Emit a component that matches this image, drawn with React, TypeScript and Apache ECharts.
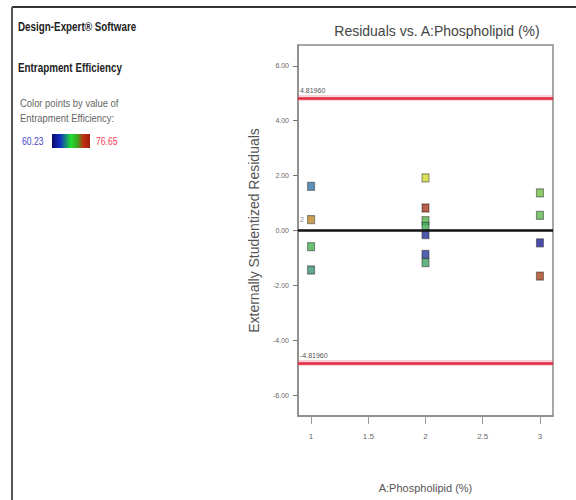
import React, { useEffect, useRef } from "react";
import * as echarts from "echarts";

// Design runs: phospholipid level, externally studentized residual, entrapment efficiency
const phospholipid = [1, 1, 1, 1, 2, 2, 2, 2, 2, 2, 2, 3, 3, 3, 3];
const residuals = [1.61, 0.4, -0.59, -1.44, 1.92, 0.82, 0.36, 0.15, -0.15, -0.87, -1.17, 1.37, 0.55, -0.45, -1.66];
const efficiency = [64.6, 74.4, 68.6, 66.6, 72.4, 76.3, 69.0, 68.2, 61.2, 61.8, 67.6, 69.8, 69.2, 60.5, 76.0];
const runsAtPoint = [1, 2, 1, 1, 1, 1, 1, 1, 1, 1, 1, 1, 1, 1, 1];

const efficiencyMin = 60.23;
const efficiencyMax = 76.65;
const residualLimit = 4.8196;
const residualLimitText = "4.81960";

const yTicks = [-6, -4, -2, 0, 2, 4, 6];
const xTicks = [1, 1.5, 2, 2.5, 3];

const FONT = "'Liberation Sans', Arial, sans-serif";

export default function App() {
  const ref = useRef<HTMLDivElement>(null);

  useEffect(() => {
    if (!ref.current) return;
    const chart = echarts.init(ref.current, undefined, { renderer: "svg" });

    const points = phospholipid.map((x, i) => ({
      value: [x, residuals[i], efficiency[i]],
      label:
        runsAtPoint[i] > 1
          ? {
              show: true,
              formatter: String(runsAtPoint[i]),
              position: "left",
              distance: 3,
              fontSize: 7,
              color: "#666",
              fontFamily: FONT,
            }
          : { show: false },
    }));

    // soft glow under each control limit, then the limit itself
    const limitGlow = (v: number) => ({
      yAxis: v,
      lineStyle: { color: "rgba(240,120,140,0.35)", width: 6, type: "solid" },
      label: { show: false },
    });
    const limitLine = (v: number) => ({
      yAxis: v,
      lineStyle: { color: "#e02a40", width: 2.5, type: "solid" },
      label: {
        show: true,
        formatter: v > 0 ? residualLimitText : "-" + residualLimitText,
        position: "insideStartTop",
        distance: [2, 4],
        fontSize: 7,
        color: "#555",
        fontFamily: FONT,
      },
    });

    const leftText = (text: string, x: number, y: number, extra: object) => ({
      type: "text",
      x,
      y,
      scaleX: 0.82,
      style: { text, fontFamily: FONT, verticalAlign: "middle", ...extra },
    });

    chart.setOption({
      animation: false,
      backgroundColor: "#fff",
      title: {
        text: "Residuals vs. A:Phospholipid (%)",
        left: 432,
        top: 19,
        textAlign: "center",
        textStyle: { fontSize: 14, fontWeight: "normal", color: "#444", fontFamily: FONT },
      },
      grid: {
        left: 298,
        right: 23,
        top: 45,
        bottom: 84,
        show: true,
        borderColor: "#8a8a8a",
        borderWidth: 1.5,
      },
      visualMap: {
        show: false,
        type: "continuous",
        min: efficiencyMin,
        max: efficiencyMax,
        dimension: 2,
        seriesIndex: 1,
        inRange: { color: ["#1a1a90", "#3a70b0", "#40b050", "#d8d830", "#a02818"] },
      },
      xAxis: {
        type: "value",
        min: 0.886,
        max: 3.114,
        name: "A:Phospholipid (%)",
        nameLocation: "middle",
        nameGap: 66,
        nameTextStyle: { fontSize: 11, color: "#555", fontFamily: FONT },
        axisLine: { show: true, onZero: false, lineStyle: { color: "#8a8a8a", width: 1.5 } },
        axisTick: { show: true, customValues: xTicks, length: 8, lineStyle: { color: "#999" } },
        axisLabel: {
          customValues: xTicks,
          formatter: (v: number) => String(v),
          fontSize: 8,
          margin: 16,
          color: "#666",
          fontFamily: FONT,
        },
        splitLine: { show: false },
      },
      yAxis: {
        type: "value",
        min: -6.76,
        max: 6.76,
        name: "Externally Studentized Residuals",
        nameLocation: "middle",
        nameRotate: 90,
        nameGap: 37,
        nameTextStyle: { fontSize: 14, color: "#555", fontFamily: FONT },
        axisLine: { show: true, onZero: false, lineStyle: { color: "#8a8a8a", width: 1.5 } },
        axisTick: { show: true, customValues: yTicks, length: 5, lineStyle: { color: "#777" } },
        axisLabel: {
          customValues: yTicks,
          formatter: (v: number) => v.toFixed(2),
          fontSize: 7,
          margin: 9,
          color: "#666",
          fontFamily: FONT,
        },
        splitLine: { show: false },
      },
      series: [
        {
          type: "line",
          data: [],
          z: 1,
          markLine: {
            silent: true,
            symbol: ["none", "none"],
            data: [
              limitGlow(residualLimit),
              limitGlow(-residualLimit),
              limitLine(residualLimit),
              limitLine(-residualLimit),
              {
                yAxis: 0,
                lineStyle: { color: "#111", width: 2.5, type: "solid" },
                label: { show: false },
              },
            ],
          },
        },
        {
          type: "scatter",
          z: 3,
          symbol: "rect",
          symbolSize: [7, 8],
          itemStyle: { borderColor: "rgba(30,30,30,0.55)", borderWidth: 1.2 },
          data: points,
        },
      ],
      graphic: [
        // frame
        { type: "line", shape: { x1: 12, y1: 7, x2: 576, y2: 7 }, style: { stroke: "#333", lineWidth: 2 } },
        { type: "line", shape: { x1: 12, y1: 7, x2: 12, y2: 500 }, style: { stroke: "#555", lineWidth: 2 } },
        leftText("Design-Expert® Software", 18, 27, { fontSize: 12, fontWeight: "bold", fill: "#222" }),
        leftText("Entrapment Efficiency", 18, 68, { fontSize: 12, fontWeight: "bold", fill: "#222" }),
        leftText("Color points by value of", 20, 103, { fontSize: 11.5, fill: "#666" }),
        leftText("Entrapment Efficiency:", 20, 118, { fontSize: 11.5, fill: "#666" }),
        leftText(efficiencyMin.toFixed(2), 22, 141, { fontSize: 10.5, fill: "#4848c8" }),
        {
          type: "rect",
          shape: { x: 52, y: 134, width: 38, height: 14 },
          style: {
            fill: new echarts.graphic.LinearGradient(0, 0, 1, 0, [
              { offset: 0, color: "#0a0a70" },
              { offset: 0.22, color: "#1030c0" },
              { offset: 0.5, color: "#20e030" },
              { offset: 0.68, color: "#40a020" },
              { offset: 0.82, color: "#c03010" },
              { offset: 1, color: "#a02010" },
            ]),
          },
        },
        leftText(efficiencyMax.toFixed(2), 96, 141, { fontSize: 10.5, fill: "#ff3a55" }),
      ],
    });

    return () => chart.dispose();
  }, []);

  return <div ref={ref} style={{ position: "fixed", left: 0, top: 0, width: 576, height: 500 }} />;
}
